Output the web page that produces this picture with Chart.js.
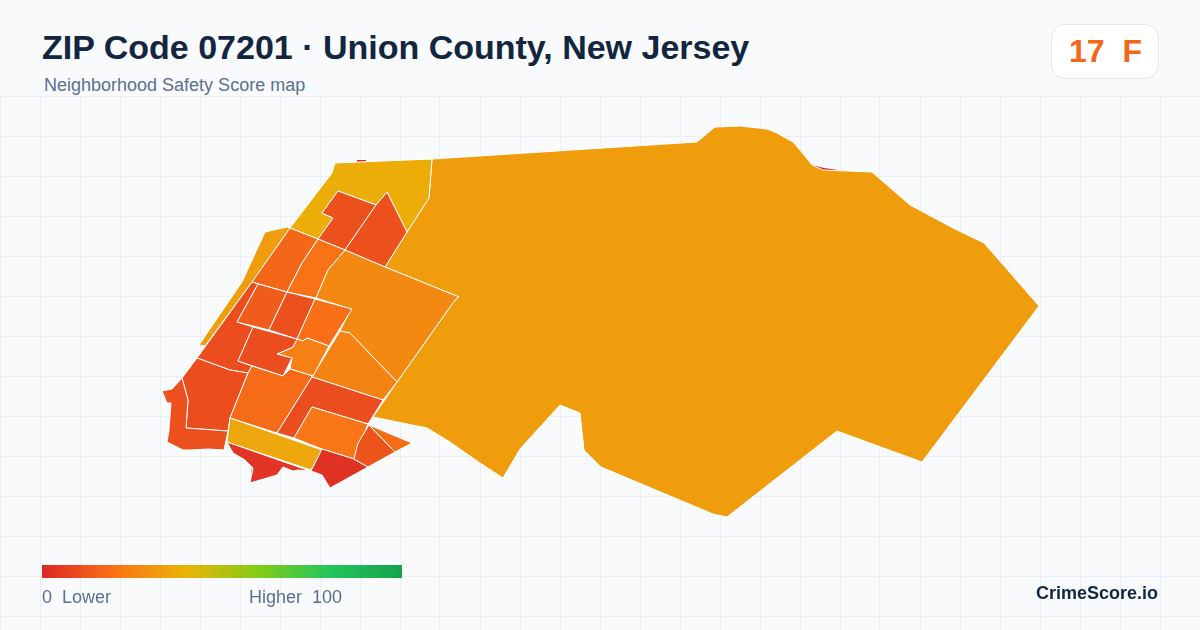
<!DOCTYPE html>
<html>
<head>
<meta charset="utf-8">
<title>ZIP Code 07201</title>
<script src="https://cdn.jsdelivr.net/npm/chart.js@4"></script>
<style>
    html, body { margin: 0; padding: 0; background: #f8fafc; }
    body { position: relative; width: 1200px; height: 630px; overflow: hidden; font-family: "Liberation Sans", Arial, sans-serif; }
    #mapBox { position: absolute; left: 0; top: 96px; width: 1200px; height: 534px; }
    .txt { position: absolute; white-space: pre; line-height: 1; }
    #title { left: 42px; top: 30px; font-size: 34px; font-weight: 700; color: #12263f; }
    #subtitle { left: 44px; top: 76px; font-size: 18px; color: #5a7090; }
    #badge { position: absolute; left: 1051px; top: 24px; width: 106px; height: 53px; background: #fff; border: 1px solid #e2e8f0; border-radius: 14px; }
    #badgeText { left: 1069px; top: 35px; font-size: 32px; font-weight: 700; }
    #scaleBar { position: absolute; left: 42px; top: 565px; width: 360px; height: 13px; }
    #scaleLow { left: 42px; top: 588px; font-size: 18px; color: #5a7090; }
    #scaleHigh { left: 249px; top: 588px; font-size: 18px; color: #5a7090; }
    #brand { right: 42px; top: 584px; font-size: 18px; font-weight: 700; color: #12263f; }
</style>
</head>
<body>
<div id="mapBox"><canvas id="mapChart" width="1200" height="534"></canvas></div>
<div class="txt" id="title">ZIP Code 07201 · Union County, New Jersey</div>
<div class="txt" id="subtitle">Neighborhood Safety Score map</div>
<div id="badge"></div>
<div class="txt" id="badgeText">17  F</div>
<div id="scaleBar"></div>
<div class="txt" id="scaleLow">0  Lower</div>
<div class="txt" id="scaleHigh">Higher  100</div>
<div class="txt" id="brand">CrimeScore.io</div>

<script>
const overallScore = 17;
const scaleStops = [0, 20, 40, 60, 80, 100];
const scaleColors = ['#dc2626', '#f97316', '#eab308', '#84cc16', '#22c55e', '#16a34a'];
const gridCols = [];
for (let v = 0; v <= 1200; v += 40) gridCols.push(v);
const gridRows = [];
for (let v = 96; v <= 630; v += 40) gridRows.push(v);

// tract outlines in map units, bottom tract first
const slivers = [
    [[357,160],[366,160],[366,162],[357,162]],
    [[800,150],[812,165],[824,168],[838,170],[838,172],[820,172],[808,165]],
    [[251,468],[255,473],[252,478]]
];
const sliverScores = [2, 1, 62];

const tracts = [
    [[432,159],[697,142],[715,127],[740,126],[767,129],[777,133],[793,142],[800,150],[812,165],[823,170],[872,172],[910,205],[953,228],[984,243],[1039,306],[922,462],[837,431],[727,517],[713,514],[601,467],[584,450],[580,413],[560,405],[520,449],[503,478],[480,463],[450,442],[427,428],[373,417],[397,382],[455,300],[459,297],[385,267],[407,232],[429,198]],
    [[335,163],[432,159],[429,198],[407,232],[387,192],[376,205],[338,191],[322,213],[333,218],[318,239],[290,228],[332,173]],
    [[290,228],[287,227],[265,232],[242,282],[199,345],[205,346],[252,282]],
    [[338,191],[376,205],[345,250],[318,239],[333,218],[322,213]],
    [[387,192],[407,232],[385,267],[345,250],[376,205]],
    [[290,228],[318,239],[302,263],[287,292],[252,282]],
    [[318,239],[345,250],[328,270],[316,298],[287,292],[302,263]],
    [[345,250],[385,267],[459,297],[455,300],[397,382],[350,333],[340,331],[351,309],[316,298],[328,270]],
    [[340,331],[350,333],[397,382],[383,400],[312,377]],
    [[252,282],[258,284],[237,322],[253,327],[238,361],[252,366],[248,373],[230,370],[197,358]],
    [[258,284],[287,292],[269,330],[237,322]],
    [[287,292],[315,299],[297,339],[269,330]],
    [[315,299],[352,309],[329,346],[307,338],[303,341],[297,339]],
    [[297,339],[303,341],[307,338],[329,346],[313,376],[290,369],[292,358],[277,354],[293,347]],
    [[253,327],[297,339],[293,347],[277,354],[292,358],[283,376],[238,361]],
    [[197,358],[230,370],[248,373],[230,418],[228,431],[186,428],[188,400],[182,378]],
    [[182,378],[188,400],[186,428],[228,431],[224,450],[208,449],[190,450],[183,450],[167,442],[169,430],[171,403],[167,403],[162,391],[172,389]],
    [[248,373],[252,366],[283,376],[290,369],[313,376],[312,377],[277,433],[230,418]],
    [[312,377],[383,400],[368,424],[312,407],[294,438],[277,433]],
    [[312,407],[368,424],[354,459],[322,449],[294,438]],
    [[230,418],[322,450],[311,470],[227,442]],
    [[227,442],[310,471],[298,470],[293,471],[283,467],[277,475],[250,483],[253,468],[245,460],[233,453]],
    [[322,449],[354,459],[368,467],[330,488],[322,475],[311,471]],
    [[369,425],[395,452],[368,467],[354,459],[358,443]],
    [[369,425],[412,443],[395,452]]
];
const tractScores = [33, 38, 33, 11, 11, 17, 20, 27, 25, 10, 14, 11, 19, 24, 10, 10, 11, 18, 10, 21, 36, 4, 3, 12, 18];

function hexToRgb(hex) {
    return [1, 3, 5].map(i => parseInt(hex.slice(i, i + 2), 16));
}

function scoreColor(score) {
    let i = 0;
    while (i < scaleStops.length - 2 && score > scaleStops[i + 1]) i++;
    const t = (score - scaleStops[i]) / (scaleStops[i + 1] - scaleStops[i]);
    const a = hexToRgb(scaleColors[i]);
    const b = hexToRgb(scaleColors[i + 1]);
    return 'rgb(' + a.map((c, k) => Math.round(c + (b[k] - c) * t)).join(',') + ')';
}

function polygonDataset(ring, score, edge, drawIndex) {
    const pts = ring.map(p => ({ x: p[0], y: p[1] }));
    pts.push(pts[0]);
    return {
        data: pts,
        showLine: true,
        fill: 'shape',
        tension: 0,
        pointRadius: 0,
        pointHitRadius: 0,
        backgroundColor: scoreColor(score),
        borderColor: edge,
        borderWidth: edge === 'transparent' ? 0 : 1,
        order: 1000 - drawIndex
    };
}

const datasets = [];
slivers.forEach((ring, i) => datasets.push(polygonDataset(ring, sliverScores[i], 'transparent', datasets.length)));
tracts.forEach((ring, i) => datasets.push(polygonDataset(ring, tractScores[i], '#ffffff', datasets.length)));

const gridLine = { color: '#e8eff5', lineWidth: 1, drawTicks: false };

new Chart(document.getElementById('mapChart'), {
    type: 'scatter',
    data: { datasets: datasets },
    options: {
        responsive: false,
        animation: false,
        layout: { padding: 0 },
        plugins: {
            legend: { display: false },
            tooltip: { enabled: false }
        },
        scales: {
            x: {
                type: 'linear',
                min: 0,
                max: 1200,
                grid: gridLine,
                border: { display: false },
                ticks: { display: false },
                afterBuildTicks: axis => { axis.ticks = gridCols.map(v => ({ value: v })); }
            },
            y: {
                type: 'linear',
                reverse: true,
                min: 96,
                max: 630,
                grid: gridLine,
                border: { display: false },
                ticks: { display: false },
                afterBuildTicks: axis => { axis.ticks = gridRows.map(v => ({ value: v })); }
            }
        }
    }
});

document.getElementById('badgeText').style.color = scoreColor(overallScore);
document.getElementById('scaleBar').style.background = 'linear-gradient(to right, ' +
    scaleColors.map((c, i) => c + ' ' + scaleStops[i] + '%').join(', ') + ')';
</script>
</body>
</html>
